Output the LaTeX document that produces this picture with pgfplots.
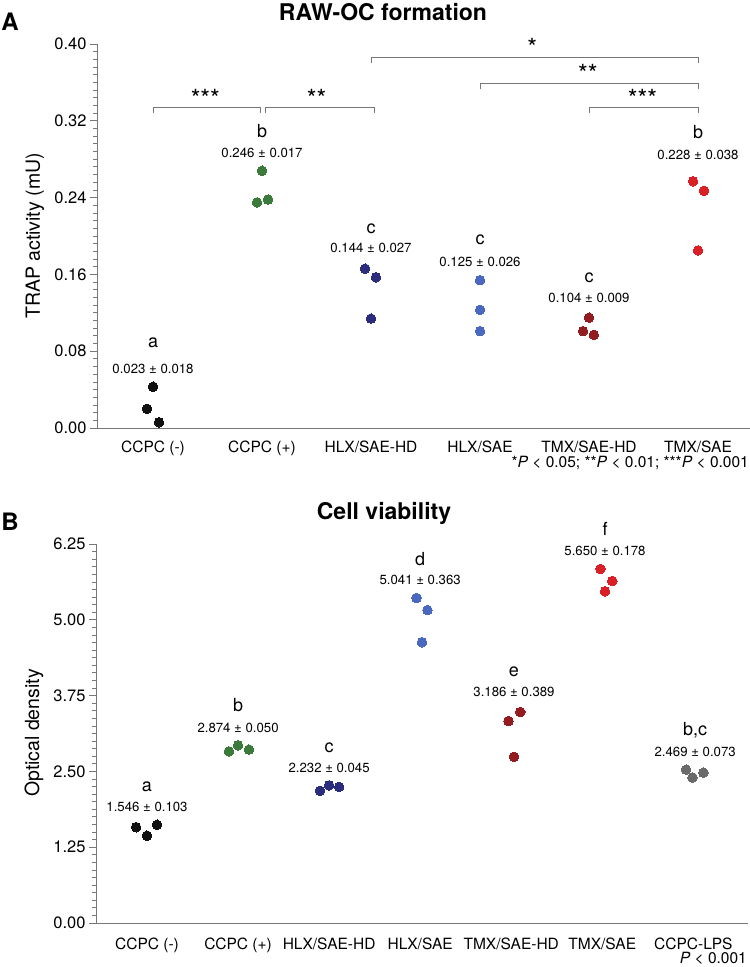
\documentclass[border=0pt]{standalone}
\usepackage{pgfplots}
\pgfplotsset{compat=1.18}
\usepackage{fontspec}
\setmainfont{TeX Gyre Heros}
\definecolor{cblack}{HTML}{111111}
\definecolor{cgreen}{HTML}{3B7A3B}
\definecolor{cnavy}{HTML}{2B2D7C}
\definecolor{cblue}{HTML}{4A68C0}
\definecolor{cdred}{HTML}{921C20}
\definecolor{cred}{HTML}{DA2027}
\definecolor{cgray}{HTML}{6A6A6A}
\definecolor{axgray}{HTML}{777777}
\newcommand\pmv[2]{#1 ± #2}
\pgfplotsset{
  dot/.style={only marks, mark=*, mark size=4.8pt, color=#1, mark options={draw=#1, fill=#1, line width=0pt}},
  common/.style={
    scale only axis, clip=false,
    axis x line*=bottom, axis y line*=left,
    axis line style={-, draw=axgray, line width=1pt},
    tick style={draw=axgray, line width=0.8pt},
    xtick style={draw=none},
    tick align=outside,
    major tick length=7pt, minor tick length=4pt,
    /pgf/number format/assume math mode=true,
    yticklabel style={font=\fontsize{16.5}{16.5}\selectfont, /pgf/number format/.cd, fixed, fixed zerofill, precision=2},
    xticklabel style={font=\fontsize{15.5}{15.5}\selectfont},
  },
}
\tikzset{
  num/.style={font=\fontsize{13.2}{13.2}\selectfont, inner sep=0pt, anchor=center},
  lett/.style={font=\fontsize{18}{18}\selectfont, inner sep=0pt, anchor=center},
  br/.style={draw=axgray, line width=0.9pt},
  star/.style={font=\fontsize{25}{25}\selectfont, inner sep=0pt, anchor=center},
}
\begin{document}
\begin{tikzpicture}
% ---------------- Panel A ----------------
\begin{axis}[common,
  at={(97pt,-428pt)}, anchor=south west, width=653pt, height=384pt,
  xmin=-0.514, xmax=5.477, ymin=0, ymax=0.40,
  ytick={0,0.08,0.16,0.24,0.32,0.40}, minor y tick num=9,
  xtick={0,1,2,3,4,5},
  xticklabels={{CCPC (-)},{CCPC (+)},{HLX/SAE-HD},{HLX/SAE},{TMX/SAE-HD},{TMX/SAE}},
  xticklabel style={yshift=-2.5pt},
]
\addplot[dot=cblack] coordinates {(0,0.043) (-0.055,0.020) (0.055,0.006)};
\addplot[dot=cgreen] coordinates {(1,0.268) (0.954,0.235) (1.055,0.238)};
\addplot[dot=cnavy] coordinates {(1.945,0.166) (2.045,0.157) (2.0,0.114)};
\addplot[dot=cblue] coordinates {(3,0.154) (3,0.123) (3,0.101)};
\addplot[dot=cdred] coordinates {(4.0,0.115) (3.945,0.101) (4.045,0.097)};
\addplot[dot=cred] coordinates {(4.955,0.257) (5.055,0.247) (5.0,0.185)};
% labels
\node[num] at (axis cs:0,0.0615) {\pmv{0.023}{0.018}};
\node[lett] at (axis cs:0,0.0885) {a};
\node[num] at (axis cs:1,0.2865) {\pmv{0.246}{0.017}};
\node[lett] at (axis cs:1,0.309) {b};
\node[num] at (axis cs:2,0.1875) {\pmv{0.144}{0.027}};
\node[lett] at (axis cs:2,0.208) {c};
\node[num] at (axis cs:3,0.173) {\pmv{0.125}{0.026}};
\node[lett] at (axis cs:3,0.196) {c};
\node[num] at (axis cs:4,0.135) {\pmv{0.104}{0.009}};
\node[lett] at (axis cs:4,0.156) {c};
\node[num] at (axis cs:5,0.284) {\pmv{0.228}{0.038}};
\node[lett] at (axis cs:5,0.308) {b};
% brackets
\draw[br] (axis cs:0,0.328) -- (axis cs:0,0.334) -- (axis cs:0.99,0.334) -- (axis cs:0.99,0.328);
\node[star] at (axis cs:0.48,0.343) {***};
\draw[br] (axis cs:1.03,0.328) -- (axis cs:1.03,0.334) -- (axis cs:2.03,0.334) -- (axis cs:2.03,0.328);
\node[star] at (axis cs:1.5,0.343) {**};
\draw[br] (axis cs:2.0,0.380) -- (axis cs:2.0,0.3865) -- (axis cs:5.0,0.3865) -- (axis cs:5.0,0.380);
\node[star] at (axis cs:3.48,0.397) {*};
\draw[br] (axis cs:3.0,0.353) -- (axis cs:3.0,0.359) -- (axis cs:5.0,0.359) -- (axis cs:5.0,0.353);
\node[star] at (axis cs:3.99,0.369) {**};
\draw[br] (axis cs:4.0,0.328) -- (axis cs:4.0,0.334) -- (axis cs:5.0,0.334) -- (axis cs:5.0,0.328);
\node[star] at (axis cs:4.49,0.343) {***};
\end{axis}
% ---------------- Panel B ----------------
\begin{axis}[common,
  at={(96pt,-923pt)}, anchor=south west, width=652pt, height=379pt,
  xmin=-0.56, xmax=6.60, ymin=0, ymax=6.25,
  ytick={0,1.25,2.5,3.75,5,6.25}, minor y tick num=9,
  xtick={0,1,2,3,4,5,6},
  xticklabels={{CCPC (-)},{CCPC (+)},{HLX/SAE-HD},{HLX/SAE},{TMX/SAE-HD},{TMX/SAE},{CCPC-LPS}},
  xticklabel style={yshift=-4pt},
]
\addplot[dot=cblack] coordinates {(-0.12,1.58) (0,1.44) (0.11,1.62)};
\addplot[dot=cgreen] coordinates {(0.9,2.83) (1.0,2.93) (1.12,2.86)};
\addplot[dot=cnavy] coordinates {(1.9,2.18) (2.0,2.27) (2.11,2.245)};
\addplot[dot=cblue] coordinates {(2.96,5.36) (3.08,5.16) (3.02,4.63)};
\addplot[dot=cdred] coordinates {(4.10,3.48) (3.97,3.33) (4.03,2.74)};
\addplot[dot=cred] coordinates {(4.98,5.84) (5.11,5.64) (5.03,5.47)};
\addplot[dot=cgray] coordinates {(5.92,2.53) (5.99,2.40) (6.11,2.48)};
\node[num] at (axis cs:0,1.913) {\pmv{1.546}{0.103}};
\node[lett] at (axis cs:0,2.243) {a};
\node[num] at (axis cs:1,3.216) {\pmv{2.874}{0.050}};
\node[lett] at (axis cs:1,3.595) {b};
\node[num] at (axis cs:2,2.556) {\pmv{2.232}{0.045}};
\node[lett] at (axis cs:2,2.886) {c};
\node[num] at (axis cs:3,5.656) {\pmv{5.041}{0.363}};
\node[lett] at (axis cs:3,6.003) {d};
\node[num] at (axis cs:4.03,3.809) {\pmv{3.186}{0.389}};
\node[lett] at (axis cs:4.03,4.139) {e};
\node[num] at (axis cs:5.03,6.135) {\pmv{5.650}{0.178}};
\node[lett] at (axis cs:5.03,6.497) {f};
\node[num] at (axis cs:6.02,2.820) {\pmv{2.469}{0.073}};
\node[lett] at (axis cs:6.02,3.183) {b,c};
\end{axis}
% ---------------- Free text ----------------
\node[font=\bfseries\fontsize{24}{24}\selectfont, inner sep=0pt] at (10pt,-22pt) {A};
\node[font=\bfseries\fontsize{24}{24}\selectfont, inner sep=0pt] at (10pt,-522pt) {B};
\node[font=\bfseries\fontsize{23}{23}\selectfont, inner sep=0pt] at (383pt,-12pt) {RAW-OC formation};
\node[font=\bfseries\fontsize{23}{23}\selectfont, inner sep=0pt] at (384pt,-513pt) {Cell viability};
\node[rotate=90, font=\fontsize{19.5}{19.5}\selectfont, inner sep=0pt] at (35pt,-236pt) {TRAP activity (mU)};
\node[rotate=90, font=\fontsize{19.5}{19.5}\selectfont, inner sep=0pt] at (34pt,-733pt) {Optical density};
\node[anchor=east, font=\fontsize{15.5}{15.5}\selectfont, inner sep=0pt] at (749pt,-463pt) {*\textit{P} < 0.05; **\textit{P} < 0.01; ***\textit{P} < 0.001};
\node[anchor=east, font=\fontsize{15.5}{15.5}\selectfont, inner sep=0pt] at (747pt,-958pt) {\textit{P} < 0.001};
\pgfresetboundingbox
\useasboundingbox (0,0) rectangle (750pt,-967pt);
\end{tikzpicture}
\end{document}
